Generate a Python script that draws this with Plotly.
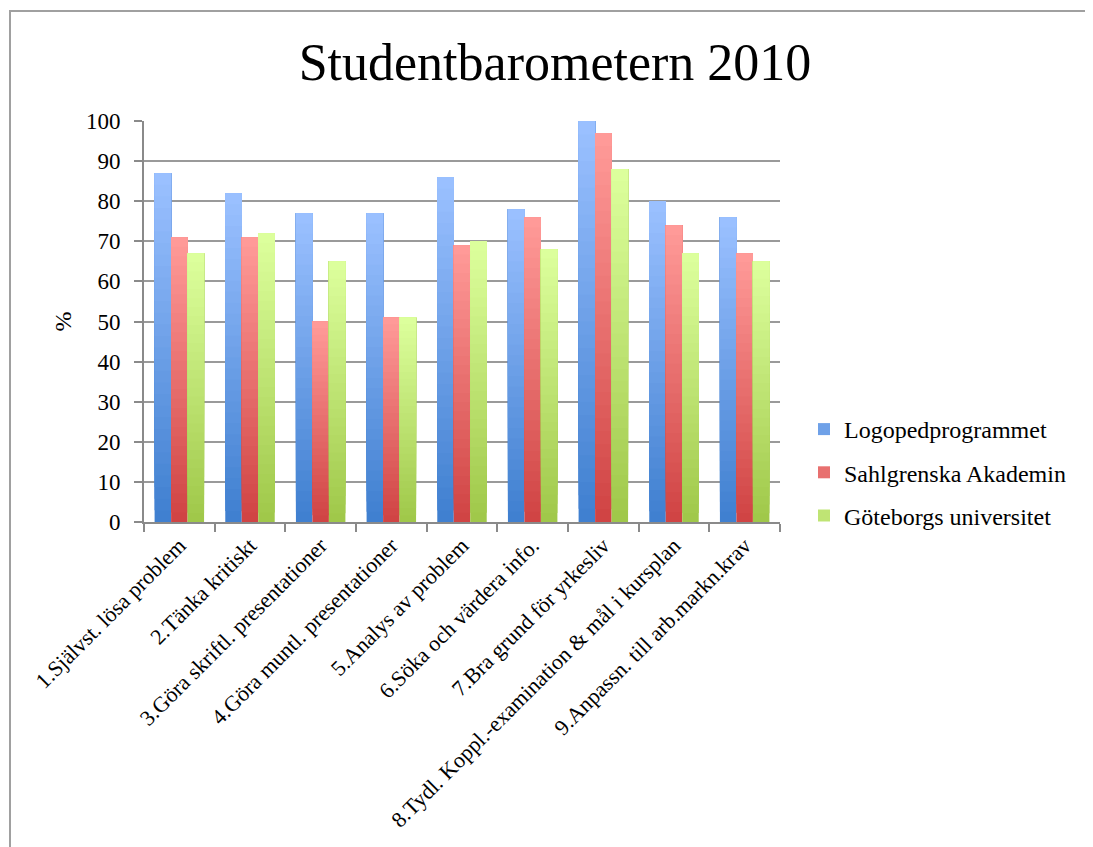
import plotly.graph_objects as go

categories = [
    "1.Självst. lösa problem",
    "2.Tänka kritiskt",
    "3.Göra skriftl. presentationer",
    "4.Göra muntl. presentationer",
    "5.Analys av problem",
    "6.Söka och värdera info.",
    "7.Bra grund för yrkesliv",
    "8.Tydl. Koppl.-examination & mål i kursplan",
    "9.Anpassn. till arb.markn.krav",
]
series_names = ["Logopedprogrammet", "Sahlgrenska Akademin", "Göteborgs universitet"]
logoped = [87, 82, 77, 77, 86, 78, 100, 80, 76]
sahlgrenska = [71, 71, 50, 51, 69, 76, 97, 74, 67]
gu = [67, 72, 65, 51, 70, 68, 88, 67, 65]
y_ticks = list(range(0, 101, 10))

series_values = [logoped, sahlgrenska, gu]
# (bottom colour, top colour)
grad = [((64, 128, 208), (154, 192, 255)),
        ((208, 68, 68), (255, 154, 152)),
        ((160, 200, 74), (220, 255, 156))]

N = 30
fig = go.Figure()
for s, (name, vals) in enumerate(zip(series_names, series_values)):
    c0, c1 = grad[s]
    for i in range(N):
        t = i / (N - 1)
        col = "rgb(%d,%d,%d)" % tuple(round(a + (b - a) * t) for a, b in zip(c0, c1))
        frac = i / N
        fig.add_trace(go.Bar(
            x=categories,
            y=[v * (1 - frac) for v in vals],
            base=[v * frac for v in vals],
            name=name,
            offsetgroup=str(s),
            legendgroup=name,
            showlegend=(i == N // 2),
            marker=dict(color=col, line=dict(width=0)),
            hoverinfo="skip" if i else "all",
        ))

font_family = "Liberation Serif, DejaVu Serif, serif"

# page has an 8px body margin -> shift screen targets by 8px
OFF = 8
W, H = 1093 - OFF, 847 - OFF
L, T = 144 - OFF, 121 - OFF
R = W - (780 - OFF)
B = H - (522 - OFF)
pw, ph = W - L - R, H - T - B
def px2x(p): return (p - OFF - L) / pw
def py2y(p): return (H - B - (p - OFF)) / ph

fig.update_layout(
    width=W, height=H,
    margin=dict(l=L, r=R, t=T, b=B),
    paper_bgcolor="white", plot_bgcolor="white",
    barmode="group", bargap=0.3, bargroupgap=0,
    font=dict(family=font_family, color="black"),
    title=dict(text="Studentbarometern 2010", x=(555 - OFF) / W, xanchor="center",
               y=1 - (62 - OFF) / H, yanchor="middle",
               font=dict(size=52, family=font_family, color="black")),
    legend=dict(x=px2x(804), y=py2y(407), xanchor="left", yanchor="top",
                font=dict(size=24, family=font_family), tracegroupgap=9,
                itemsizing="constant", traceorder="grouped", bgcolor="rgba(0,0,0,0)"),
    showlegend=True,
    shapes=[dict(type="rect", xref="paper", yref="paper",
                 x0=px2x(10), x1=px2x(1300), y0=py2y(1000), y1=py2y(11),
                 line=dict(color="#a0a0a0", width=2), fillcolor="rgba(0,0,0,0)",
                 layer="below")],
)
fig.update_yaxes(range=[0, 100], tickvals=y_ticks, showgrid=True, gridcolor="#9a9a9a",
                 gridwidth=2, showline=True, linecolor="#8a8a8a", linewidth=2,
                 ticks="outside", ticklen=8, tickcolor="#8a8a8a", tickwidth=2,
                 ticklabelstandoff=9,
                 tickfont=dict(size=23, family=font_family), zeroline=False,
                 title=dict(text="%", font=dict(size=24, family=font_family), standoff=8))
fig.update_xaxes(showline=True, linecolor="#8a8a8a", linewidth=2, ticks="outside",
                 tickson="boundaries", ticklen=8, tickcolor="#8a8a8a", tickwidth=2,
                 tickangle=-45, tickfont=dict(size=22, family=font_family))

fig.write_html("out.html")
